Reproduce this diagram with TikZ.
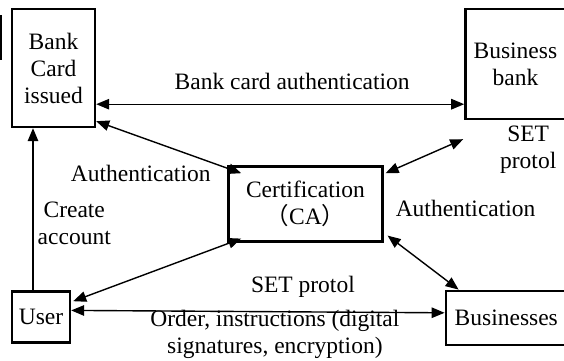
\documentclass[tikz,border=0pt]{standalone}
\usepackage{fontspec}
\setmainfont{Liberation Serif}
\newfontfamily\cjk{Noto Sans CJK SC}
\usepackage{tikz}
\usetikzlibrary{arrows.meta,positioning,calc}

\begin{document}
\begin{tikzpicture}[
    x=1pt, y=1pt,
    font=\fontsize{23.5}{27}\selectfont,
    box/.style={rectangle, draw, line width=2.4pt, align=center, inner sep=2pt},
    link/.style={<->, >={Triangle[length=13pt,width=10.5pt]}, line width=1.4pt},
    arrow/.style={->, >={Triangle[length=13pt,width=10.5pt]}, line width=1.4pt},
    lbl/.style={align=center, inner sep=0pt}
]
    \useasboundingbox (0,0) rectangle (564,360);

    % Banks (top)
    \node[box, minimum width=83pt, minimum height=118pt] (bank) at (53.5,292) {Bank\\Card\\issued};
    \node[box, minimum width=100pt, minimum height=110pt, right=368pt of bank.north east, anchor=north west] (bizbank) {Business\\bank};

    % Certification authority (middle)
    \node[box, minimum width=154pt, minimum height=75pt, below right=37pt and 131pt of bank.south east, anchor=north west] (ca) {Certification\\{\cjk （}CA{\cjk ）}};

    % User and businesses (bottom)
    \node[box, minimum width=58pt, minimum height=51pt, below=162pt of bank.south west, anchor=north west] (user) {User};
    \node[box, minimum width=121pt, minimum height=54pt, below right=47pt and 61pt of ca.south east, anchor=north west] (biz) {Businesses};

    % edge of a cut-off box
    \draw[line width=1.5pt] (1,345) -- (1,300);

    % Arrows - top
    \draw[link] ([yshift=24pt]bank.south east) -- node[lbl, above=14pt, xshift=12pt] {Bank card authentication} ([yshift=16pt]bizbank.south west);
    \draw[link] ([yshift=7pt]bank.south east) -- node[lbl, pos=0.5, xshift=-28pt, yshift=-26pt] {Authentication} ([xshift=14pt, yshift=-8pt]ca.north west);
    \draw[link] ([xshift=2pt, yshift=-8pt]ca.north east) -- node[lbl, pos=1, xshift=65pt, yshift=-11pt] {SET\\protol} ([xshift=-1pt, yshift=-19pt]bizbank.south west);

    % Arrows - user side
    \draw[arrow] ([xshift=-8pt]user.north) -- node[lbl, pos=0.41, right=4pt] {Create\\account} ([xshift=-8pt]user.north |- bank.south);
    \draw[link] ([xshift=2pt, yshift=-11pt]user.north east) -- ([xshift=14pt, yshift=4pt]ca.south west);

    % Arrows - businesses side
    \draw[link] ([xshift=4pt, yshift=7pt]ca.south east) -- node[lbl, pos=0, xshift=78pt, yshift=27pt] {Authentication} ([xshift=14pt]biz.north west);
    \draw[link] ([yshift=6.5pt]user.east) --
        node[lbl, pos=0.5, xshift=45pt, yshift=25pt] {SET protol}
        node[lbl, pos=0.5, xshift=17pt, yshift=-22.5pt] {Order, instructions (digital\\signatures, encryption)}
        ([yshift=5pt]biz.west);

\end{tikzpicture}
\end{document}
